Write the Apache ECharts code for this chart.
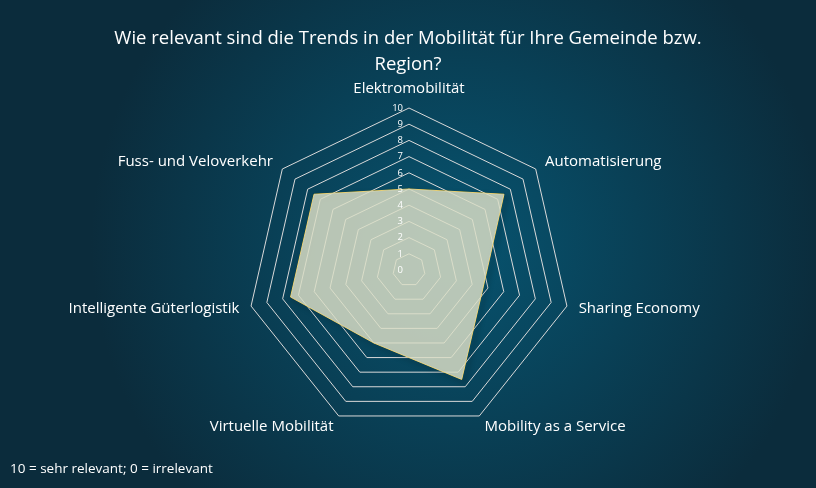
<!DOCTYPE html>
<html>
<head>
<meta charset="utf-8">
<script src="https://cdn.jsdelivr.net/npm/echarts@6/dist/echarts.min.js"></script>
<style>
  html, body { margin: 0; padding: 0; }
  #main { width: 816px; height: 488px; }
</style>
</head>
<body>
<div id="main"></div>
<script>
// Achsen (Trends) im Uhrzeigersinn ab oben, und Bewertungen
var trends = ['Elektromobilität', 'Automatisierung', 'Sharing Economy', 'Mobility as a Service',
  'Virtuelle Mobilität', 'Intelligente Güterlogistik', 'Fuss- und Veloverkehr'];
var ratings = [5, 7.5, 4.7, 7.5, 5, 7.5, 7.5];
var scaleMax = 10;

window.onload = function() {
  var myChart = echarts.init(document.getElementById('main'));
  var font = '"Open Sans", "Noto Sans", sans-serif';
  var center = [409, 270];
  var radius = 162;

  // ECharts-Radar läuft gegen den Uhrzeigersinn -> Reihenfolge ab Index 1 umdrehen
  var order = [0];
  for (var i = trends.length - 1; i > 0; i--) order.push(i);

  var option = {
    animation: false,
    backgroundColor: {
      type: 'radial', x: 0.56, y: 0.5, r: 0.75,
      colorStops: [
        { offset: 0, color: '#075470' },
        { offset: 1, color: '#0b2c3c' }
      ]
    },
    title: {
      text: 'Wie relevant sind die Trends in der Mobilität für Ihre Gemeinde bzw.\nRegion?',
      left: 'center',
      top: 21,
      textStyle: { color: '#ffffff', fontFamily: font, fontSize: 18.5, fontWeight: 'normal', lineHeight: 26 }
    },
    graphic: [{
      type: 'text', left: 10, top: 462,
      style: { text: '10 = sehr relevant; 0 = irrelevant', fill: '#ffffff', font: '13.5px ' + font }
    }],
    radar: {
      center: center,
      radius: radius,
      startAngle: 90,
      shape: 'polygon',
      splitNumber: 10,
      indicator: order.map(function(k) { return { name: trends[k], min: 0, max: scaleMax }; }),
      axisName: { color: '#ffffff', fontFamily: font, fontSize: 15 },
      nameGap: 12,
      axisLine: { show: false },
      axisTick: { show: false },
      splitArea: { show: false },
      splitLine: { lineStyle: { color: '#d9d9d9', width: 1 } }
    },
    polar: { center: center, radius: radius },
    angleAxis: {
      type: 'value', startAngle: 90, min: 0, max: 360,
      show: false
    },
    radiusAxis: {
      type: 'value', min: 0, max: scaleMax, interval: 1,
      z: 10,
      axisLine: { show: false },
      axisTick: { show: false },
      splitLine: { show: false },
      axisLabel: { color: '#ffffff', fontFamily: font, fontSize: 9.5, margin: 6 }
    },
    series: [{
      type: 'radar',
      symbol: 'none',
      z: 1,
      data: [{ value: order.map(function(k) { return ratings[k]; }) }],
      lineStyle: {
        color: '#f2c744', width: 1,
        shadowColor: 'rgba(0, 0, 0, 0.55)', shadowBlur: 5, shadowOffsetX: 3, shadowOffsetY: 3
      },
      areaStyle: { color: 'rgba(218, 222, 198, 0.84)', opacity: 1 }
    }]
  };
  myChart.setOption(option);
};
</script>
</body>
</html>
